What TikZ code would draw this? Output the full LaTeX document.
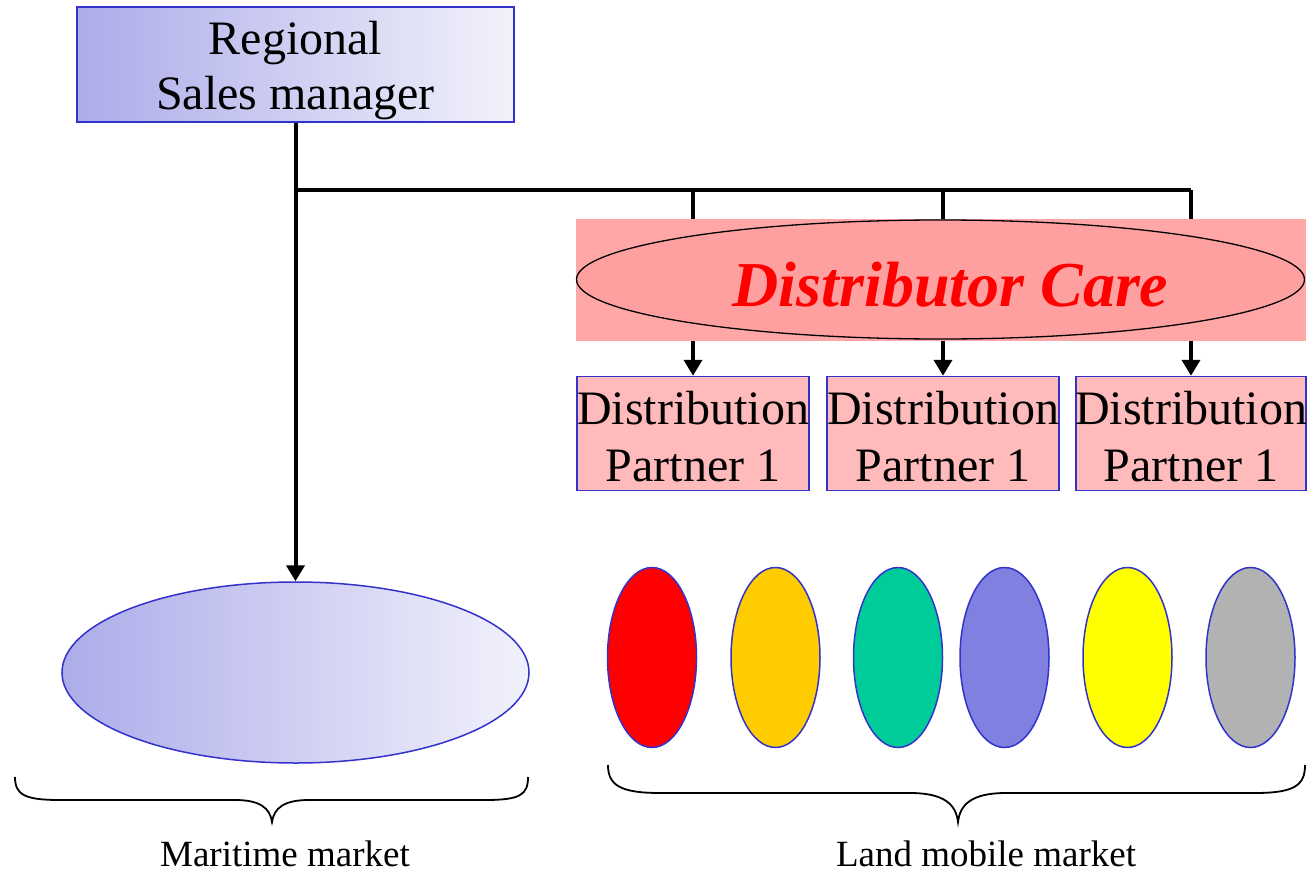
\documentclass[tikz,border=0pt]{standalone}
\usepackage{fontspec}
\setmainfont{Liberation Serif}
\usetikzlibrary{arrows.meta,shapes.geometric}
\definecolor{bord}{RGB}{51,51,204}
\definecolor{lavL}{RGB}{172,172,234}
\definecolor{lavR}{RGB}{242,242,251}
\definecolor{pinkbg}{RGB}{255,166,166}
\definecolor{pinkell}{RGB}{255,160,160}
\definecolor{pinkbox}{RGB}{255,187,187}
\definecolor{cOrange}{RGB}{255,204,0}
\definecolor{cGreen}{RGB}{0,204,153}
\definecolor{cBlue}{RGB}{128,128,224}
\definecolor{cYellow}{RGB}{255,255,0}
\definecolor{cGray}{RGB}{178,178,178}
\tikzset{
  bigtext/.style={font=\fontsize{48}{57}\selectfont, align=center, inner sep=0pt},
  rsmbox/.style={draw=bord, line width=1.5pt, rectangle, inner sep=0pt, left color=lavL, right color=lavR},
  partnerbox/.style={draw=bord, line width=1.5pt, rectangle, inner sep=0pt, fill=pinkbox, minimum width=232pt, minimum height=114pt},
  market/.style={draw=bord, line width=1.5pt, ellipse, inner sep=0pt, minimum width=89pt, minimum height=180pt},
  conn/.style={line width=4pt, draw=black},
  arr/.style={conn, -{Triangle[length=16pt,width=18pt]}},
  brace/.style={line width=1.8pt, draw=black},
  lbl/.style={font=\fontsize{37}{40}\selectfont, anchor=base, inner sep=0pt, text depth=0pt}
}
\begin{document}
\begin{tikzpicture}[x=1pt,y=-1pt]
\useasboundingbox (0,0) rectangle (1307,872);
% top box
\node[rsmbox, minimum width=437pt, minimum height=115pt] (rsm) at (295.5,64.5) {};
\node[bigtext, font=\fontsize{48}{55}\selectfont] (rsmt) at ([yshift=-6pt]rsm.center) {Regional\\Sales manager};
% distributor care
\node[rectangle, fill=pinkbg, inner sep=0pt, minimum width=730pt, minimum height=122pt] (dcbg) at (941,280) {};
\node[ellipse, draw=black, line width=1.3pt, fill=pinkell, inner sep=0pt, minimum width=728pt, minimum height=119pt] (dc) at (940.5,279.5) {};
\node[inner sep=0pt, font=\fontsize{64}{70}\selectfont\bfseries\itshape, text=red] (dct) at ([xshift=10pt,yshift=-5pt]dc.center) {Distributor Care};
% partners
\node[partnerbox] (p1) at (693,433.5) {};
\node[partnerbox] (p2) at (943,433.5) {};
\node[partnerbox, minimum width=230pt] (p3) at (1191,433.5) {};
\node[bigtext] (p1t) at ([yshift=-3pt]p1.center) {Distribution\\Partner 1};
\node[bigtext] (p2t) at ([yshift=-3pt]p2.center) {Distribution\\Partner 1};
\node[bigtext] (p3t) at ([yshift=-3pt]p3.center) {Distribution\\Partner 1};
% maritime ellipse
\node[ellipse, draw=bord, line width=1.5pt, inner sep=0pt, left color=lavL, right color=lavR, minimum width=467pt, minimum height=181pt] (mar) at (295.5,672.5) {};
% land mobile ellipses
\node[market, fill=red] (e1) at (652,657.5) {};
\node[market, fill=cOrange] (e2) at (775.5,657.5) {};
\node[market, fill=cGreen] (e3) at (898,657.5) {};
\node[market, fill=cBlue] (e4) at (1004.5,657.5) {};
\node[market, fill=cYellow] (e5) at (1127.5,657.5) {};
\node[market, fill=cGray] (e6) at (1250.5,657.5) {};
% labels
\node[lbl] (lm) at (285,866) {Maritime market};
\node[lbl] (ll) at (986,866) {Land mobile market};
% connectors
\coordinate (j) at (295.5,190);
\draw[arr] (rsm.south) -- (mar.north);
\draw[conn] (j) -- (j -| p3.north);
\draw[conn] (j -| p1.north) -- (dcbg.north -| p1.north);
\draw[conn] (j -| p2.north) -- (dcbg.north -| p2.north);
\draw[conn] (j -| p3.north) -- (dcbg.north -| p3.north);
\draw[arr] (dcbg.south -| p1.north) -- (p1.north);
\draw[arr] (dcbg.south -| p2.north) -- (p2.north);
\draw[arr] (dcbg.south -| p3.north) -- (p3.north);
% braces
\draw[brace] (15,777) .. controls (15,795) and (25,800) .. (60,800) -- (235,800) .. controls (260,800) and (270,808) .. (272,822) .. controls (274,808) and (284,800) .. (309,800) -- (485,800) .. controls (520,800) and (528,795) .. (528,777);
\draw[brace] (608,765) .. controls (608,785) and (620,793) .. (660,793) -- (910,793) .. controls (945,793) and (956,805) .. (958,822) .. controls (960,805) and (971,793) .. (1006,793) -- (1255,793) .. controls (1295,793) and (1305,785) .. (1305,765);
\end{tikzpicture}
\end{document}
